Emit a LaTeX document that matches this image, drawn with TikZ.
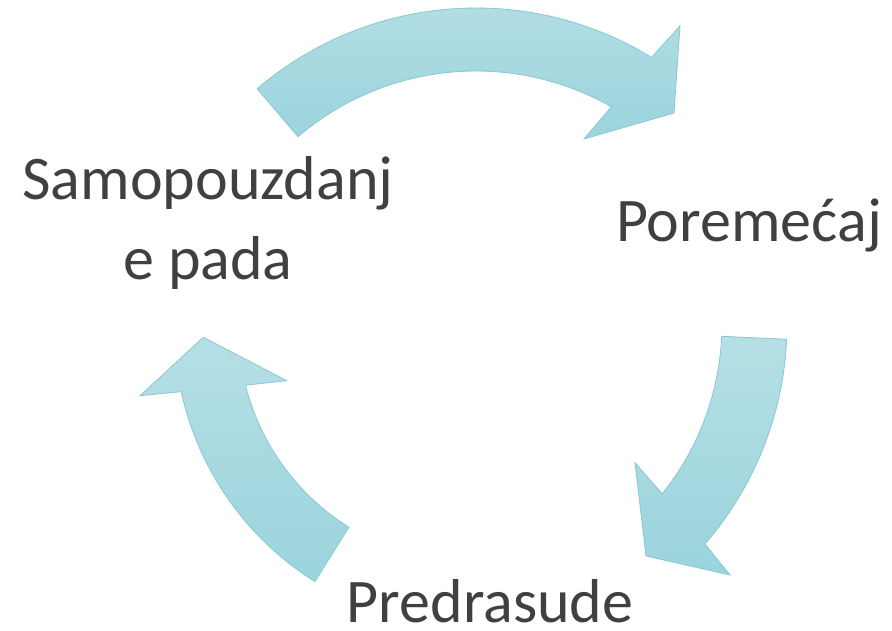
\documentclass[tikz,border=0pt]{standalone}
\usepackage{fontspec}
\setmainfont{Carlito}
\usetikzlibrary{calc}
\definecolor{arrtop}{HTML}{B6DFE5}
\definecolor{arrbot}{HTML}{9BD4DD}
\definecolor{arrline}{HTML}{86C9D3}
\definecolor{lblcol}{HTML}{404040}
\begin{document}
\begin{tikzpicture}[x=1pt,y=1pt]
\tikzset{
  arrowshape/.style={draw=arrline, line width=0.8pt, top color=arrtop, bottom color=arrbot, line join=miter},
  lbl/.style={font=\fontsize{62}{80}\selectfont, text=lblcol, inner sep=0pt, align=center}
}
\useasboundingbox (0,0) rectangle (892,631);
% top arrow
\coordinate (ct) at (476,286);
\path[arrowshape] ($(ct)+(130.5:337pt)$) arc[start angle=130.5, end angle=58.6, radius=337pt]
  -- (680,605) -- (674,518) -- (584,492) -- ($(ct)+(60.4:274pt)$)
  arc[start angle=60.4, end angle=130.5, radius=274pt] -- cycle;
% right arrow
\coordinate (cr) at (451,307);
\path[arrowshape] ($(cr)+(-2.6:336pt)$) arc[start angle=-2.6, end angle=-40.9, radius=336pt]
  -- (730,56) -- (646,75) -- (635,168.3) -- ($(cr)+(-38.8:271pt)$)
  arc[start angle=-38.8, end angle=-2.6, radius=271pt] -- cycle;
% left arrow
\coordinate (cl) at (473.4,303);
\path[arrowshape] ($(cl)+(238:299pt)$) arc[start angle=238, end angle=192.3, radius=299pt]
  -- (140,235.3) -- (203.3,293.7) -- (286.7,250.3) -- ($(cl)+(194.1:235pt)$)
  arc[start angle=194.1, end angle=238, radius=235pt] -- cycle;
% labels
\node[lbl, anchor=base] (samo) at (208,351) {Samopouzdanj\\e pada};
\node[lbl, anchor=base] (pore) at (749,389) {Poremećaj};
\node[lbl, anchor=base] (pred) at (490,8) {Predrasude};
\end{tikzpicture}
\end{document}
